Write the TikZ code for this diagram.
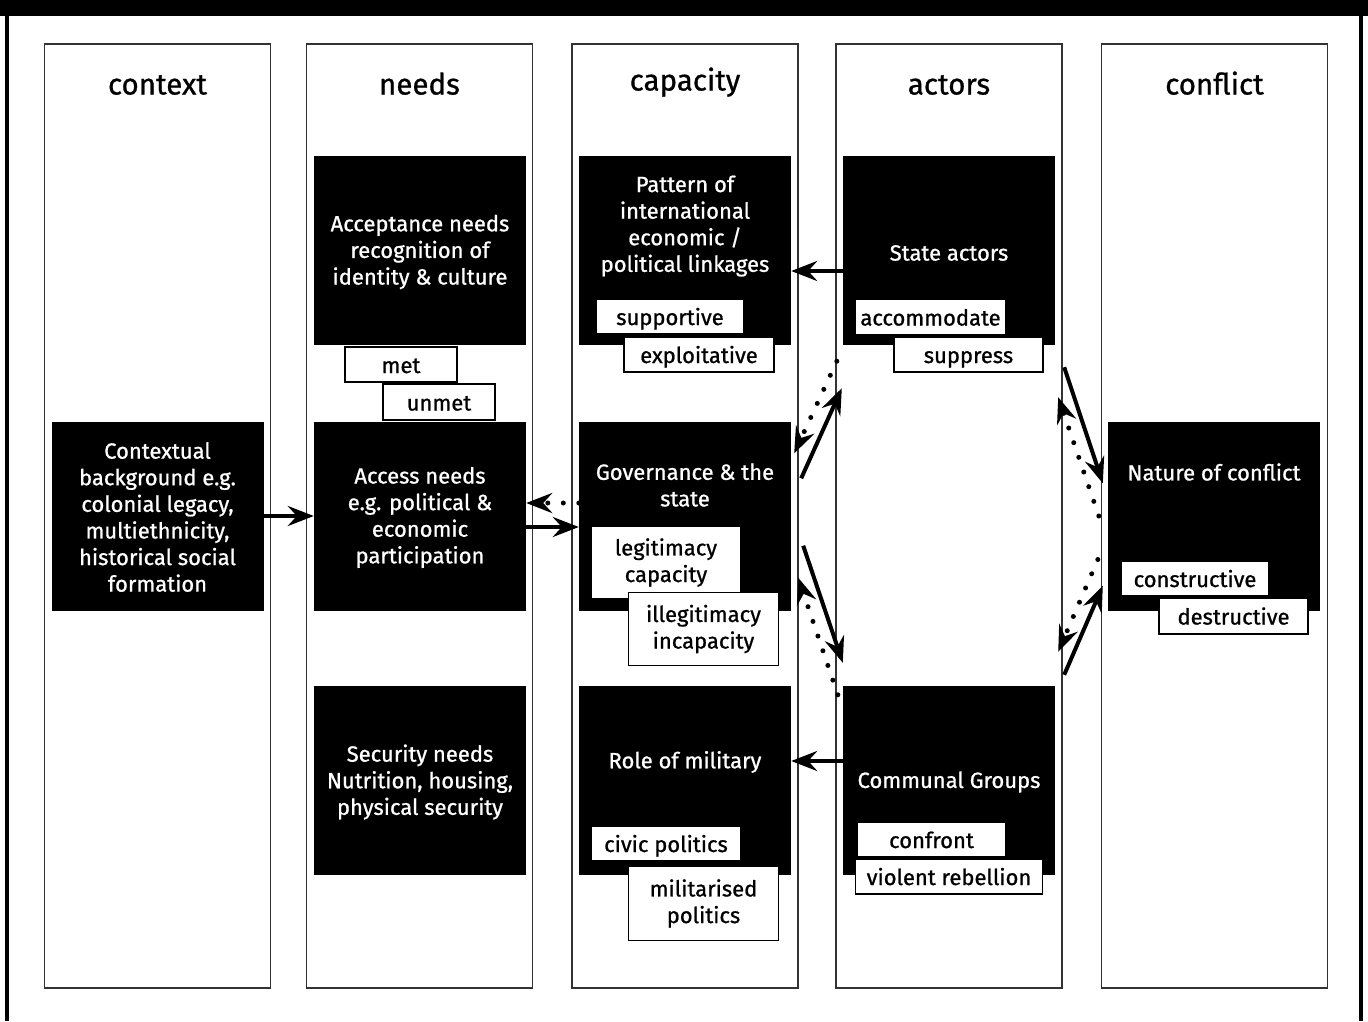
\documentclass[tikz,border=0pt]{standalone}
\usepackage{fontspec}
\setmainfont{Fira Sans}[UprightFeatures={FakeBold=0.9}]
\usetikzlibrary{arrows.meta}
\pgfdeclarelayer{collayer}
\pgfdeclarelayer{edgelayer}
\pgfdeclarelayer{nodelayer}
\pgfsetlayers{collayer,edgelayer,nodelayer,main}
\tikzset{font=\fontsize{22}{26.6}\selectfont}
\tikzstyle{column}=[draw=black!80,line width=1.5pt,minimum width=226pt,minimum height=944pt,inner sep=0pt]
\tikzstyle{head}=[font=\fontsize{29.5}{34}\selectfont,inner sep=0pt,text height=21pt,text depth=0pt]
\tikzstyle{blk}=[fill=black,minimum width=212pt,minimum height=189pt,inner sep=0pt]
\tikzstyle{blktxt}=[text=white,align=center,inner sep=0pt]
\tikzstyle{tag}=[draw=black,fill=white,line width=1.2pt,align=center,inner sep=0pt]
\tikzstyle{tagline}=[tag,text height=18pt,text depth=1pt]
\tikzstyle{arr}=[line width=4pt,-{Stealth[length=26pt,width=20pt,inset=9pt]}]
\tikzstyle{dotarr}=[line width=5pt,line cap=round,dash pattern=on 0pt off 15.5pt,-{Stealth[length=26pt,width=20pt,inset=9pt]}]

\begin{document}
\begin{tikzpicture}[x=1pt,y=-1pt]
	\useasboundingbox (0,0) rectangle (1368,1021);
	\begin{pgfonlayer}{collayer}
		\fill[black] (0,0) rectangle (1368,16);
		\draw[line width=4pt] (7,0) -- (7,1021);
		\draw[line width=4pt] (1361,0) -- (1361,1021);
		\node [style=column] (colctx) at (157.5, 516) {};
		\node [style=column] (colneeds) at (419.5, 516) {};
		\node [style=column] (colcap) at (685, 516) {};
		\node [style=column] (colact) at (949, 516) {};
		\node [style=column] (colconf) at (1214.5, 516) {};
		\node [style=head] (hctx) at (157.5, 84) {context};
		\node [style=head] (hneeds) at (419.5, 84) {needs};
		\node [style=head] (hcap) at (685, 80) {capacity};
		\node [style=head] (hact) at (949, 84) {actors};
		\node [style=head] (hconf) at (1214.5, 84) {conflict};
	\end{pgfonlayer}
	\begin{pgfonlayer}{nodelayer}
		% needs / context
		\node [style=blk] (ctx) at (157.5, 516) {};
		\node [style=blktxt] (ctxt) at (157.5, 517) {Contextual\\background e.g.\\colonial legacy,\\multiethnicity,\\historical social\\formation};
		\node [style=blk] (accept) at (420, 250.5) {};
		\node [style=blktxt] (acceptt) at (420, 252) {Acceptance needs\\recognition of\\identity \& culture};
		\node [style=blk] (access) at (420, 516) {};
		\node [style=blktxt] (accesst) at (420, 517.5) {Access needs\\e.g. political \&\\economic\\participation};
		\node [style=blk] (secur) at (420, 780.5) {};
		\node [style=blktxt] (secutt) at (420, 782) {Security needs\\Nutrition, housing,\\physical security};
		% capacity
		\node [style=blk] (pattern) at (685, 250.5) {};
		\node [style=blktxt] (patternt) at (685, 226) {Pattern of\\international\\economic /\\political linkages};
		\node [style=blk] (gov) at (685, 516) {};
		\node [style=blktxt] (govt) at (685, 485) {Governance \& the\\state};
		\node [style=blk] (mil) at (685, 780.5) {};
		\node [style=blktxt] (milt) at (685, 762) {Role of military};
		% actors
		\node [style=blk] (state) at (949, 250.5) {};
		\node [style=blktxt] (statet) at (949, 253) {State actors};
		\node [style=blk] (comm) at (949, 780.5) {};
		\node [style=blktxt] (commt) at (949, 782) {Communal Groups};
		% conflict
		\node [style=blk] (nature) at (1214, 516) {};
		\node [style=blktxt] (naturet) at (1214, 472) {Nature of conflict};
		% tags
		\node [style=tagline, minimum width=112pt, minimum height=35pt] (met) at (401, 364.5) {met};
		\node [style=tagline, minimum width=112pt, minimum height=36pt] (unmet) at (439, 402) {unmet};
		\node [style=tagline, minimum width=148pt, minimum height=35pt] (supp) at (670, 316.5) {supportive};
		\node [style=tagline, minimum width=150pt, minimum height=35pt] (expl) at (699, 354.5) {exploitative};
		\node [style=tagline, minimum width=151pt, minimum height=35pt] (accom) at (930.5, 317) {accommodate};
		\node [style=tagline, minimum width=149pt, minimum height=35pt] (suppr) at (968.5, 354.5) {suppress};
		\node [style=tag, minimum width=149pt, minimum height=72pt] (legit) at (666, 562.5) {legitimacy\\capacity};
		\node [style=tag, minimum width=150pt, minimum height=73pt] (illegit) at (703.5, 629) {illegitimacy\\incapacity};
		\node [style=tagline, minimum width=149pt, minimum height=35pt] (civic) at (666, 843.5) {civic politics};
		\node [style=tag, minimum width=150pt, minimum height=74pt] (milpol) at (703.5, 903.5) {militarised\\politics};
		\node [style=tagline, minimum width=149pt, minimum height=35pt] (confr) at (931.5, 839.5) {confront};
		\node [style=tagline, minimum width=187pt, minimum height=35pt] (viol) at (949, 876.5) {violent rebellion};
		\node [style=tagline, minimum width=148pt, minimum height=35pt] (constr) at (1195, 578.5) {constructive};
		\node [style=tagline, minimum width=149pt, minimum height=36pt] (destr) at (1233.5, 616) {destructive};
	\end{pgfonlayer}
	\begin{pgfonlayer}{edgelayer}
		\draw[style=arr] (ctx.east) to (access.west);
		\draw[style=arr] ([yshift=-11pt]access.east) to ([yshift=-11pt]gov.west);
		\draw[style=dotarr] ([yshift=13pt]gov.west) to ([yshift=13pt]access.east);
		\draw[style=arr] ([yshift=-20.5pt]state.west) to ([yshift=-20.5pt]pattern.east);
		\draw[style=arr] ([yshift=19.5pt]comm.west) to ([yshift=19.5pt]mil.east);
		\draw[style=arr] ([shift={(10pt,-57pt)}]gov.north east) to ([shift={(-1pt,-43pt)}]state.south west);
		\draw[style=dotarr] ([shift={(-6pt,-16pt)}]state.south west) to ([shift={(3pt,-32pt)}]gov.north east);
		\draw[style=arr] ([shift={(12pt,65pt)}]gov.south east) to ([shift={(0pt,23pt)}]comm.north west);
		\draw[style=dotarr] ([shift={(-5pt,-9pt)}]comm.north west) to ([shift={(7pt,33pt)}]gov.south east);
		\draw[style=arr] ([shift={(9pt,-22pt)}]state.south east) to ([shift={(-5pt,-62pt)}]nature.north west);
		\draw[style=dotarr] ([xshift=-9pt]nature.west) to ([shift={(3pt,-52pt)}]state.south east);
		\draw[style=arr] ([shift={(9pt,11pt)}]comm.north east) to ([shift={(-5pt,25pt)}]nature.south west);
		\draw[style=dotarr] ([shift={(-10pt,-43.5pt)}]nature.west) to ([shift={(3pt,34pt)}]comm.north east);
	\end{pgfonlayer}
\end{tikzpicture}
\end{document}
